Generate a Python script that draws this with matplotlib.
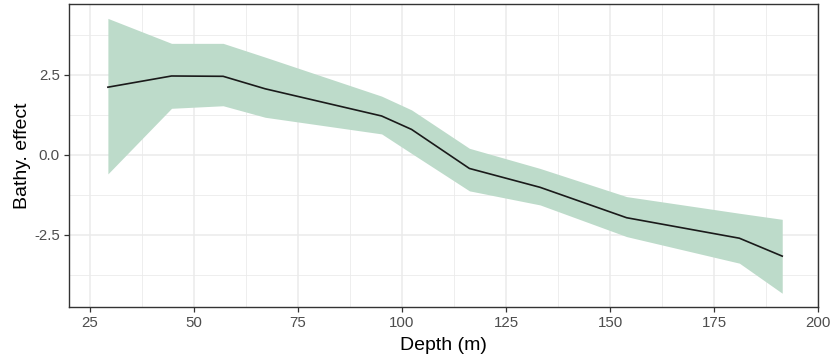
import matplotlib
matplotlib.use("Agg")
import matplotlib.pyplot as plt
from matplotlib.ticker import MultipleLocator

depth = [29.3, 44.6, 57.0, 67.1, 95.1, 102.3, 116.2, 133.2, 154.0, 181.1, 191.4]
effect = [2.11, 2.46, 2.45, 2.06, 1.21, 0.79, -0.43, -1.02, -1.97, -2.61, -3.17]
upper = [4.26, 3.48, 3.48, 3.05, 1.83, 1.40, 0.20, -0.43, -1.31, -1.83, -2.02]
lower = [-0.60, 1.45, 1.53, 1.17, 0.65, 0.04, -1.13, -1.57, -2.56, -3.39, -4.33]

x_ticks = [25, 50, 75, 100, 125, 150, 175, 200]
y_ticks = [-2.5, 0.0, 2.5]
y_ticklabels = ["-2.5", "0.0", "2.5"]

plt.rcParams['font.family'] = ['Liberation Sans', 'DejaVu Sans']

fig = plt.figure(figsize=(8.33, 3.59), dpi=100)
ax = fig.add_axes([69/833, 1 - 307/359, (818 - 69)/833, (307 - 4)/359])

ax.fill_between(depth, lower, upper, color='#bddbca', linewidth=0, zorder=2)
ax.plot(depth, effect, color='#1a1a1a', linewidth=1.2, zorder=3)

ax.set_xlim(19.95, 200)
ax.set_ylim(-4.76, 4.71)
ax.set_xticks(x_ticks)
ax.set_yticks(y_ticks)
ax.set_yticklabels(y_ticklabels)
ax.xaxis.set_minor_locator(MultipleLocator(12.5))
ax.yaxis.set_minor_locator(MultipleLocator(1.25))

ax.grid(which='major', color='#ebebeb', linewidth=1.1, zorder=0)
ax.grid(which='minor', color='#ebebeb', linewidth=0.6, zorder=0)
ax.set_axisbelow(True)

for s in ax.spines.values():
    s.set_color('#333333')
    s.set_linewidth(1.0)

ax.tick_params(which='major', length=3.5, width=0.9, color='#333333',
               labelsize=10.8, labelcolor='#4d4d4d', pad=3)
ax.tick_params(which='minor', length=0)

ax.set_xlabel('Depth (m)', fontsize=14, color='black', labelpad=5)
ax.set_ylabel('Bathy. effect', fontsize=14, color='black', labelpad=2)

fig.savefig('out.png', dpi=100)
